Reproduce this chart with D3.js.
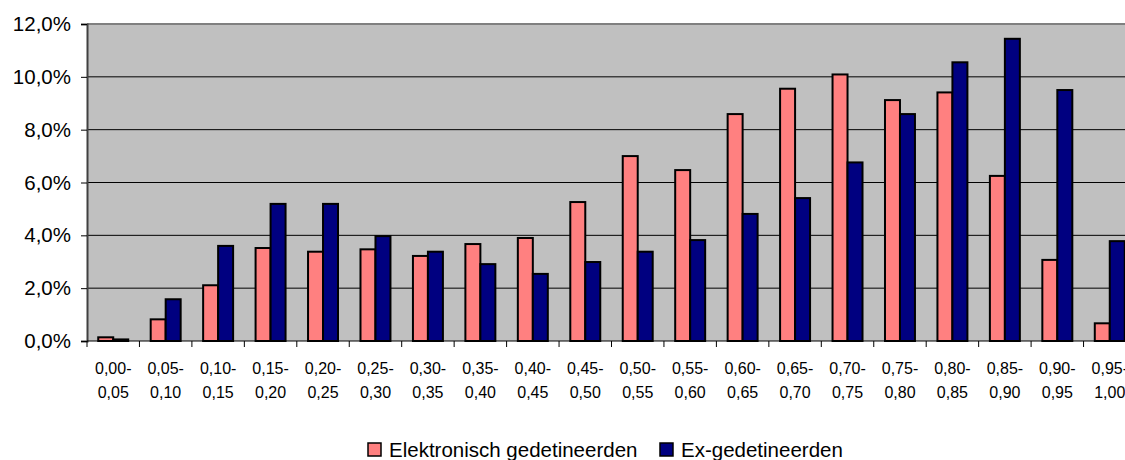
<!DOCTYPE html>
<html>
<head>
<meta charset="utf-8">
<script src="https://cdn.jsdelivr.net/npm/d3@7"></script>
<style>
  html, body { margin: 0; padding: 0; background: #fff; overflow: hidden; }
  svg { display: block; font-family: "Liberation Sans", Arial, sans-serif; }
</style>
</head>
<body>
<div id="chart"></div>
<script>
// ── Data (percentages per score band) ─────────────────────────
const bandFrom = ["0,00","0,05","0,10","0,15","0,20","0,25","0,30","0,35","0,40","0,45",
                  "0,50","0,55","0,60","0,65","0,70","0,75","0,80","0,85","0,90","0,95"];
const bandTo   = ["0,05","0,10","0,15","0,20","0,25","0,30","0,35","0,40","0,45","0,50",
                  "0,55","0,60","0,65","0,70","0,75","0,80","0,85","0,90","0,95","1,00"];
const elektronisch = [0.14, 0.82, 2.11, 3.52, 3.38, 3.47, 3.22, 3.67, 3.90, 5.26,
                      7.00, 6.47, 8.59, 9.55, 10.09, 9.12, 9.41, 6.25, 3.07, 0.67];
const exGedetineerd = [0.06, 1.58, 3.60, 5.19, 5.19, 3.97, 3.38, 2.91, 2.54, 2.99,
                       3.38, 3.82, 4.81, 5.41, 6.76, 8.59, 10.55, 11.44, 9.50, 3.78];
const yTicks = [0, 2, 4, 6, 8, 10, 12];
const seriesNames = ["Elektronisch gedetineerden", "Ex-gedetineerden"];
const seriesColors = ["#FF8080", "#000080"];

const W = 1125, H = 460;
const plot = { left: 87, top: 24, right: 1136, bottom: 341 };

const svg = d3.select("#chart").append("svg")
  .attr("width", W).attr("height", H);

// Excel-style gap width 150%: gap = 1.5 bar widths
const gap = 1.5 / 3.5;
const x0 = d3.scaleBand()
  .domain(d3.range(bandFrom.length))
  .range([plot.left, plot.right])
  .paddingInner(gap).paddingOuter(gap / 2);
const step = (plot.right - plot.left) / bandFrom.length;
const x1 = d3.scaleBand().domain([0, 1]).range([0, x0.bandwidth()]);

const y = d3.scaleLinear().domain([0, 12]).range([plot.bottom, plot.top]);

// plot background
svg.append("rect")
  .attr("x", plot.left).attr("y", plot.top)
  .attr("width", plot.right - plot.left).attr("height", plot.bottom - plot.top)
  .attr("fill", "#C0C0C0");

// gridlines
svg.append("g").selectAll("line")
  .data(yTicks.filter(t => t > 0 && t < 12))
  .enter().append("line")
  .attr("x1", plot.left).attr("x2", plot.right)
  .attr("y1", d => y(d)).attr("y2", d => y(d))
  .attr("stroke", "#000").attr("stroke-width", 1);

// top border
svg.append("line")
  .attr("x1", plot.left).attr("x2", plot.right)
  .attr("y1", y(12)).attr("y2", y(12))
  .attr("stroke", "#808080").attr("stroke-width", 2);

// bars
const rows = bandFrom.map((b, i) => [elektronisch[i], exGedetineerd[i]]);
const groups = svg.append("g").selectAll("g")
  .data(rows).enter().append("g")
  .attr("transform", (d, i) => `translate(${x0(i)},0)`);

groups.selectAll("rect")
  .data(d => d.map((v, s) => ({ v, s })))
  .enter().append("rect")
  .attr("x", d => x1(d.s))
  .attr("y", d => y(d.v))
  .attr("width", x1.bandwidth())
  .attr("height", d => y(0) - y(d.v))
  .attr("fill", d => seriesColors[d.s])
  .attr("stroke", "#000")
  .attr("stroke-width", 2);

// y axis
const yAxis = svg.append("g")
  .attr("transform", `translate(${plot.left},0)`)
  .call(d3.axisLeft(y).tickValues(yTicks).tickSize(6).tickPadding(10)
    .tickFormat(d => d.toFixed(1).replace(".", ",") + "%"));
yAxis.select(".domain").attr("stroke", "#404040").attr("stroke-width", 2);
yAxis.selectAll(".tick line").attr("stroke", "#000");
yAxis.selectAll(".tick text")
  .attr("font-size", 20.5).attr("fill", "#000")
  .attr("font-family", "'Liberation Sans', Arial, sans-serif");

// x axis: ticks at category boundaries
const xAxisG = svg.append("g");
xAxisG.append("line")
  .attr("x1", plot.left).attr("x2", plot.right)
  .attr("y1", plot.bottom).attr("y2", plot.bottom)
  .attr("stroke", "#000").attr("stroke-width", 1);
xAxisG.selectAll("line.tick")
  .data(d3.range(bandFrom.length + 1))
  .enter().append("line")
  .attr("class", "tick")
  .attr("x1", i => plot.left + i * step).attr("x2", i => plot.left + i * step)
  .attr("y1", plot.bottom).attr("y2", plot.bottom + 6)
  .attr("stroke", "#000");

const labels = xAxisG.selectAll("text.cat")
  .data(bandFrom).enter().append("text")
  .attr("class", "cat")
  .attr("text-anchor", "middle")
  .attr("font-size", 16)
  .attr("fill", "#000");
labels.append("tspan")
  .attr("x", (d, i) => x0(i) + x0.bandwidth() / 2)
  .attr("y", 374)
  .text(d => d + "-");
labels.append("tspan")
  .attr("x", (d, i) => x0(i) + x0.bandwidth() / 2)
  .attr("y", 398)
  .text((d, i) => bandTo[i]);

// legend
const legend = svg.append("g").attr("transform", "translate(368,443)");
const legendX = [0, 292];
seriesNames.forEach((name, s) => {
  const g = legend.append("g").attr("transform", `translate(${legendX[s]},0)`);
  g.append("rect")
    .attr("x", 0).attr("y", 0).attr("width", 13).attr("height", 13)
    .attr("fill", seriesColors[s]).attr("stroke", "#000").attr("stroke-width", 1.5);
  g.append("text")
    .attr("x", 21).attr("y", 14)
    .attr("font-size", 20.5)
    .attr("fill", "#000")
    .text(name);
});
</script>
</body>
</html>
